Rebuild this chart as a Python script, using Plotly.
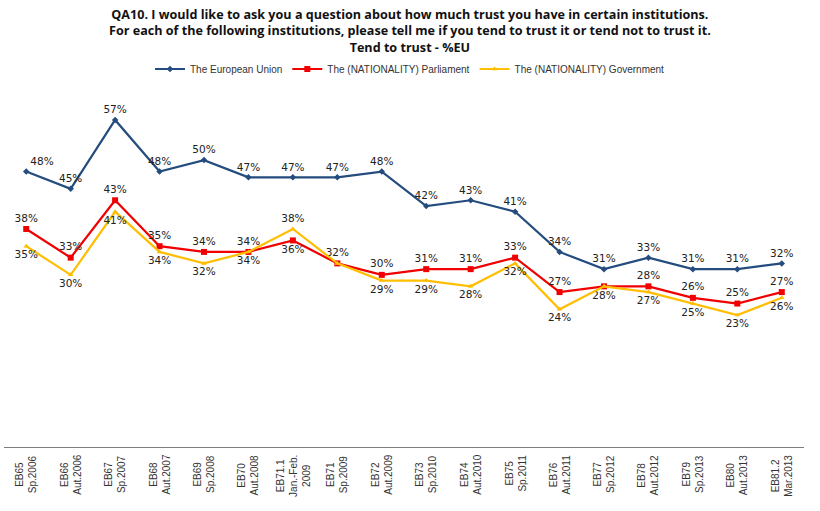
import plotly.graph_objects as go

categories = ["EB65<br>Sp.2006", "EB66<br>Aut.2006", "EB67<br>Sp.2007", "EB68<br>Aut.2007",
              "EB69<br>Sp.2008", "EB70<br>Aut.2008", "EB71.1<br>Jan.-Feb.<br>2009", "EB71<br>Sp.2009",
              "EB72<br>Aut.2009", "EB73<br>Sp.2010", "EB74<br>Aut.2010", "EB75<br>Sp.2011",
              "EB76<br>Aut.2011", "EB77<br>Sp.2012", "EB78<br>Aut.2012", "EB79<br>Sp.2013",
              "EB80<br>Aut.2013", "EB81.2<br>Mar.2013"]
eu = [48, 45, 57, 48, 50, 47, 47, 47, 48, 42, 43, 41, 34, 31, 33, 31, 31, 32]
parliament = [38, 33, 43, 35, 34, 34, 36, 32, 30, 31, 31, 33, 27, 28, 28, 26, 25, 27]
government = [35, 30, 41, 34, 32, 34, 38, 32, 29, 29, 28, 32, 24, 28, 27, 25, 23, 26]

title_lines = [
    "QA10. I would like to ask you a question about how much trust you have in certain institutions.",
    "For each of the following institutions, please tell me if you tend to trust it or tend not to trust it.",
    "Tend to trust - %EU",
]

# label placement (styling)
eu_pos = ["top right"] + ["top center"] * 17
par_pos = ["top center"] * 18
par_pos[6] = "bottom center"
par_pos[13] = "bottom center"
gov_pos = ["bottom center"] * 18
gov_pos[6] = "top center"
gov_pos[7] = "top center"
gov_shared_label = {7, 13}  # where the Government label coincides with the Parliament one

label_font = dict(family="DejaVu Sans", size=10.5, color="#222222")

fig = go.Figure()
fig.add_trace(go.Scatter(
    x=categories, y=eu, name="The European Union", mode="lines+markers+text",
    line=dict(color="#244C7E", width=2.2),
    marker=dict(symbol="diamond", size=5, color="#244C7E"),
    text=[f"{v}%" for v in eu], textposition=eu_pos, textfont=label_font,
    cliponaxis=False))
fig.add_trace(go.Scatter(
    x=categories, y=parliament, name="The (NATIONALITY) Parliament", mode="lines+markers+text",
    line=dict(color="#F00000", width=2.2),
    marker=dict(symbol="square", size=6, color="#F00000"),
    text=[f"{v}%" for v in parliament], textposition=par_pos, textfont=label_font,
    cliponaxis=False))
fig.add_trace(go.Scatter(
    x=categories, y=government, name="The (NATIONALITY) Government", mode="lines+markers+text",
    line=dict(color="#FFBE00", width=2.2),
    marker=dict(symbol="triangle-up", size=5, color="#FFBE00"),
    text=["" if i in gov_shared_label else f"{v}%" for i, v in enumerate(government)],
    textposition=gov_pos, textfont=label_font,
    cliponaxis=False))

annotations = [dict(
    text="<br>".join(title_lines), xref="paper", yref="paper", x=0.5075, y=1,
    xanchor="center", yanchor="middle", yshift=66, showarrow=False, align="center",
    borderpad=0,
    font=dict(family="Open Sans", size=12.6, color="#111111", weight="bold"))]

for c in categories:
    annotations.append(dict(
        text=c, xref="x", yref="paper", x=c, y=0, xanchor="center", yanchor="top",
        yshift=-6, textangle=-90, showarrow=False, align="center",
        font=dict(family="Liberation Sans", size=10, color="#333333")))

fig.update_layout(
    width=820, height=511,
    margin=dict(l=4, r=16, t=97, b=64),
    paper_bgcolor="white", plot_bgcolor="white",
    legend=dict(orientation="h", x=0.5075, xanchor="center", y=1.08, yanchor="middle",
                font=dict(family="Liberation Sans", size=10, color="#333333"),
                itemwidth=30, tracegroupgap=0),
    showlegend=True,
    annotations=annotations,
    xaxis=dict(type="category", range=[-0.5, 17.5], showgrid=False, showline=True,
               linecolor="#7F7F7F", linewidth=1, ticks="", showticklabels=False),
    yaxis=dict(range=[0, 61], visible=False, showgrid=False),
)

fig.write_html("out.html", config={"displayModeBar": False},
               post_script="document.body.style.margin='0px';")
